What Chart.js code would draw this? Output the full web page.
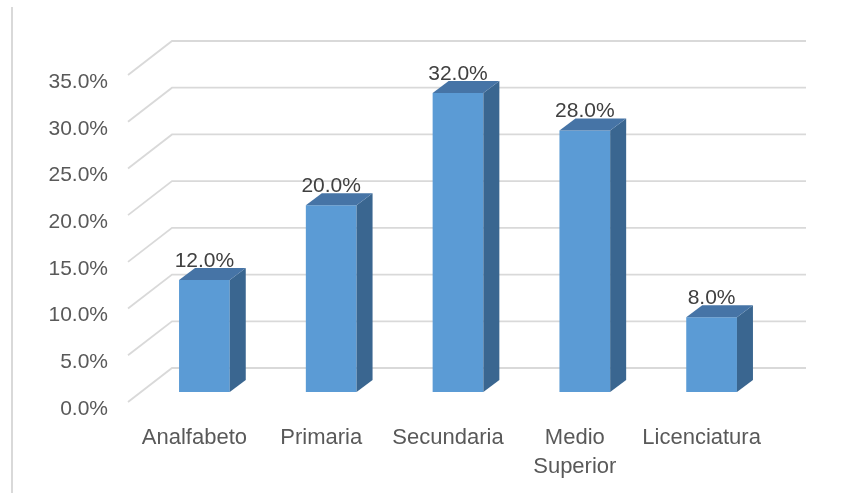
<!DOCTYPE html>
<html>
<head>
<meta charset="utf-8">
<script src="https://cdn.jsdelivr.net/npm/chart.js@4.4.1/dist/chart.umd.min.js"></script>
<style>
  html, body { margin: 0; padding: 0; background: #ffffff; }
  #wrap { position: relative; width: 846px; height: 493px; }
</style>
</head>
<body>
<div id="wrap"><canvas id="c" width="846" height="493"></canvas></div>
<script>
const categories = ['Analfabeto', 'Primaria', 'Secundaria', ['Medio', 'Superior'], 'Licenciatura'];
const values = [12, 20, 32, 28, 8];
const yTicks = [0, 5, 10, 15, 20, 25, 30, 35];

const FONT = 'Liberation Sans, Arial, sans-serif';
const FRONT = '#5B9BD5', TOP = '#4674A6', SIDE = '#3A6690';
const DEPTH_X = 16, DEPTH_Y = -12;

const threeD = {
  id: 'threeD',
  beforeDraw(chart) {
    const ctx = chart.ctx;
    ctx.save();
    ctx.fillStyle = '#ffffff';
    ctx.fillRect(0, 0, chart.width, chart.height);
    ctx.strokeStyle = '#d9d9d9';
    ctx.lineWidth = 2;
    ctx.beginPath();
    ctx.moveTo(12, 7);
    ctx.lineTo(12, chart.height);
    ctx.stroke();
    ctx.restore();
  },
  beforeDatasetsDraw(chart) {
    const ctx = chart.ctx, ys = chart.scales.y, area = chart.chartArea;
    ctx.save();
    ctx.strokeStyle = '#d9d9d9';
    ctx.lineWidth = 1.8;
    ys.ticks.forEach(t => {
      const y = ys.getPixelForValue(t.value);
      ctx.beginPath();
      ctx.moveTo(area.left - 13, y + 10);
      ctx.lineTo(area.left + 31, y - 24);
      ctx.lineTo(area.right + 31, y - 24);
      ctx.stroke();
    });
    ctx.restore();
  },
  afterDatasetsDraw(chart) {
    const ctx = chart.ctx;
    const meta = chart.getDatasetMeta(0);
    ctx.save();
    meta.data.forEach((bar, i) => {
      const { x, y, base, width } = bar.getProps(['x', 'y', 'base', 'width'], true);
      const l = x - width / 2, r = x + width / 2;
      ctx.fillStyle = SIDE;
      ctx.beginPath();
      ctx.moveTo(r, y);
      ctx.lineTo(r + DEPTH_X, y + DEPTH_Y);
      ctx.lineTo(r + DEPTH_X, base + DEPTH_Y);
      ctx.lineTo(r, base);
      ctx.closePath();
      ctx.fill();
      ctx.fillStyle = TOP;
      ctx.beginPath();
      ctx.moveTo(l, y);
      ctx.lineTo(l + DEPTH_X, y + DEPTH_Y);
      ctx.lineTo(r + DEPTH_X, y + DEPTH_Y);
      ctx.lineTo(r, y);
      ctx.closePath();
      ctx.fill();
      ctx.fillStyle = '#404040';
      ctx.font = '21px ' + FONT;
      ctx.textAlign = 'center';
      ctx.textBaseline = 'middle';
      ctx.fillText(values[i].toFixed(1) + '%', x, y - 19);
    });
    ctx.restore();
  }
};

new Chart(document.getElementById('c'), {
  type: 'bar',
  data: {
    labels: categories,
    datasets: [{
      data: values,
      backgroundColor: FRONT,
      borderWidth: 0,
      categoryPercentage: 1.0,
      barPercentage: 0.4
    }]
  },
  options: {
    responsive: false,
    animation: false,
    devicePixelRatio: 1,
    layout: { padding: { top: 65, right: 71, left: 0, bottom: 0 } },
    plugins: { legend: { display: false }, tooltip: { enabled: false } },
    scales: {
      x: {
        grid: { display: false, drawTicks: false },
        border: { display: false },
        ticks: {
          color: '#595959',
          font: { family: FONT, size: 22, lineHeight: 1.32 },
          padding: 31,
          labelOffset: -10,
          maxRotation: 0,
          autoSkip: false
        },
        afterFit(s) { s.height = 101; }
      },
      y: {
        min: 0,
        max: 35,
        grid: { display: false, drawTicks: false },
        border: { display: false },
        ticks: {
          stepSize: 5,
          color: '#595959',
          font: { family: FONT, size: 21 },
          padding: 33,
          labelOffset: 17,
          callback: v => yTicks.includes(v) ? v.toFixed(1) + '%' : ''
        },
        afterFit(s) { s.width = 141; }
      }
    }
  },
  plugins: [threeD]
});
</script>
</body>
</html>
